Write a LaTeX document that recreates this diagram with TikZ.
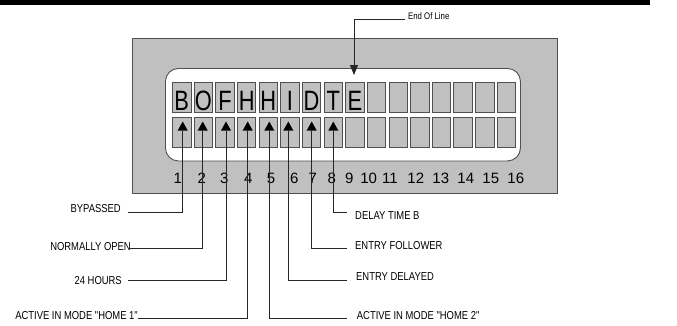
\documentclass[tikz,border=0pt]{standalone}
\usepackage{fontspec}
\setmainfont{Liberation Sans}
\newfontfamily\narrowfont[FakeStretch=0.82]{Liberation Sans}
\newfontfamily\cellfont[FakeStretch=0.78]{Liberation Sans}
\usetikzlibrary{arrows.meta,calc}
\definecolor{panelgrey}{HTML}{C0C0C0}
\definecolor{edgegrey}{HTML}{505050}
\begin{document}
\begin{tikzpicture}[x=1bp,y=-1bp,
  cellbox/.style={draw=edgegrey,fill=panelgrey,line width=0.9bp,minimum width=18.5bp,minimum height=30bp,inner sep=0pt,anchor=north west},
  lbl/.style={font=\narrowfont\fontsize{11.5bp}{12bp}\selectfont,inner sep=0pt},
  conn/.style={draw=black!85,line width=0.8bp},
  digit/.style={font=\fontsize{15bp}{16bp}\selectfont,inner sep=0pt,anchor=base},
  letter/.style={font=\cellfont\fontsize{28bp}{30bp}\selectfont,inner sep=0pt,anchor=base}]
\useasboundingbox (0,0) rectangle (677,325);
% top bar
\fill[black] (0,0) rectangle (650,4.7);
% panel
\node[draw=edgegrey,fill=panelgrey,line width=1.1bp,minimum width=425.5bp,minimum height=154.7bp,inner sep=0pt,anchor=north west] (panel) at (131.7,38.3) {};
\node[draw=edgegrey,fill=white,line width=0.9bp,rounded corners=13bp,minimum width=355bp,minimum height=92.5bp,inner sep=0pt,anchor=north west] (window) at (165,68) {};
% cells
\foreach \i in {1,...,16}{
  \node[cellbox] (c\i) at ({172+21.65*(\i-1)},81.7) {};
  \node[cellbox] (d\i) at ({172+21.65*(\i-1)},116.7) {};
}
% letters
\foreach \i/\l in {1/B,2/O,3/F,4/H,5/H,6/I,7/D,8/T,9/E}{
  \node[letter] (l\i) at ($(c\i.south)+(0,-1.7)$) {\l};
}
% triangles
\foreach \i/\x in {1/182.7,2/202.7,3/226,4/247.7,5/269.3,6/288.3,7/311.7,8/333.3}{
  \coordinate (t\i) at (\x,130.5);
  \fill[black] (t\i) ++(-5,0) -- ++(10,0) -- ++(-5,-9) -- cycle;
}
% digits
\foreach \i/\x in {1/177.7,2/201.7,3/224.3,4/248.3,5/271,6/294.3,7/312.7,8/331.7,9/349.3,10/368.7,11/390,12/415.8,13/440.8,14/465.8,15/490.8,16/515.8}{
  \node[digit] (n\i) at (\x,183.3) {\i};
}
% labels left
\node[lbl,anchor=base east] (bypassed) at (121,212.3) {BYPASSED};
\node[lbl,anchor=base east] (normopen) at (131,250.7) {NORMALLY OPEN};
\node[lbl,anchor=base east] (hours) at (122,284) {24 HOURS};
\node[lbl,anchor=base east] (home1) at (138,319.3) {ACTIVE IN MODE "HOME 1"};
% labels right
\node[lbl,anchor=base west] (delayb) at (355,219.3) {DELAY TIME B};
\node[lbl,anchor=base west] (follower) at (355,249.3) {ENTRY FOLLOWER};
\node[lbl,anchor=base west] (delayed) at (356,280.7) {ENTRY DELAYED};
\node[lbl,anchor=base west] (home2) at (356.7,319.3) {ACTIVE IN MODE "HOME 2"};
% connector start points
\coordinate (s1) at (128,212.3);
\coordinate (s2) at (130,248.3);
\coordinate (s3) at (128,280.7);
\coordinate (s4) at (138,318.3);
\coordinate (s5) at (346.7,318.3);
\coordinate (s6) at (346.7,280.7);
\coordinate (s7) at (346.7,248.3);
\coordinate (s8) at (346.7,212.3);
\foreach \i in {1,...,8}{
  \draw[conn] (s\i) -| (t\i);
}
% end of line
\node[lbl,font=\narrowfont\fontsize{9.5bp}{10bp}\selectfont,anchor=base west] (eol) at (408,19) {End Of Line};
\coordinate (e0) at (405,19);
\coordinate (e1) at (354,75);
\draw[conn,-{Triangle[length=10bp,width=8bp]}] (e0) -| (e1);
\end{tikzpicture}
\end{document}
